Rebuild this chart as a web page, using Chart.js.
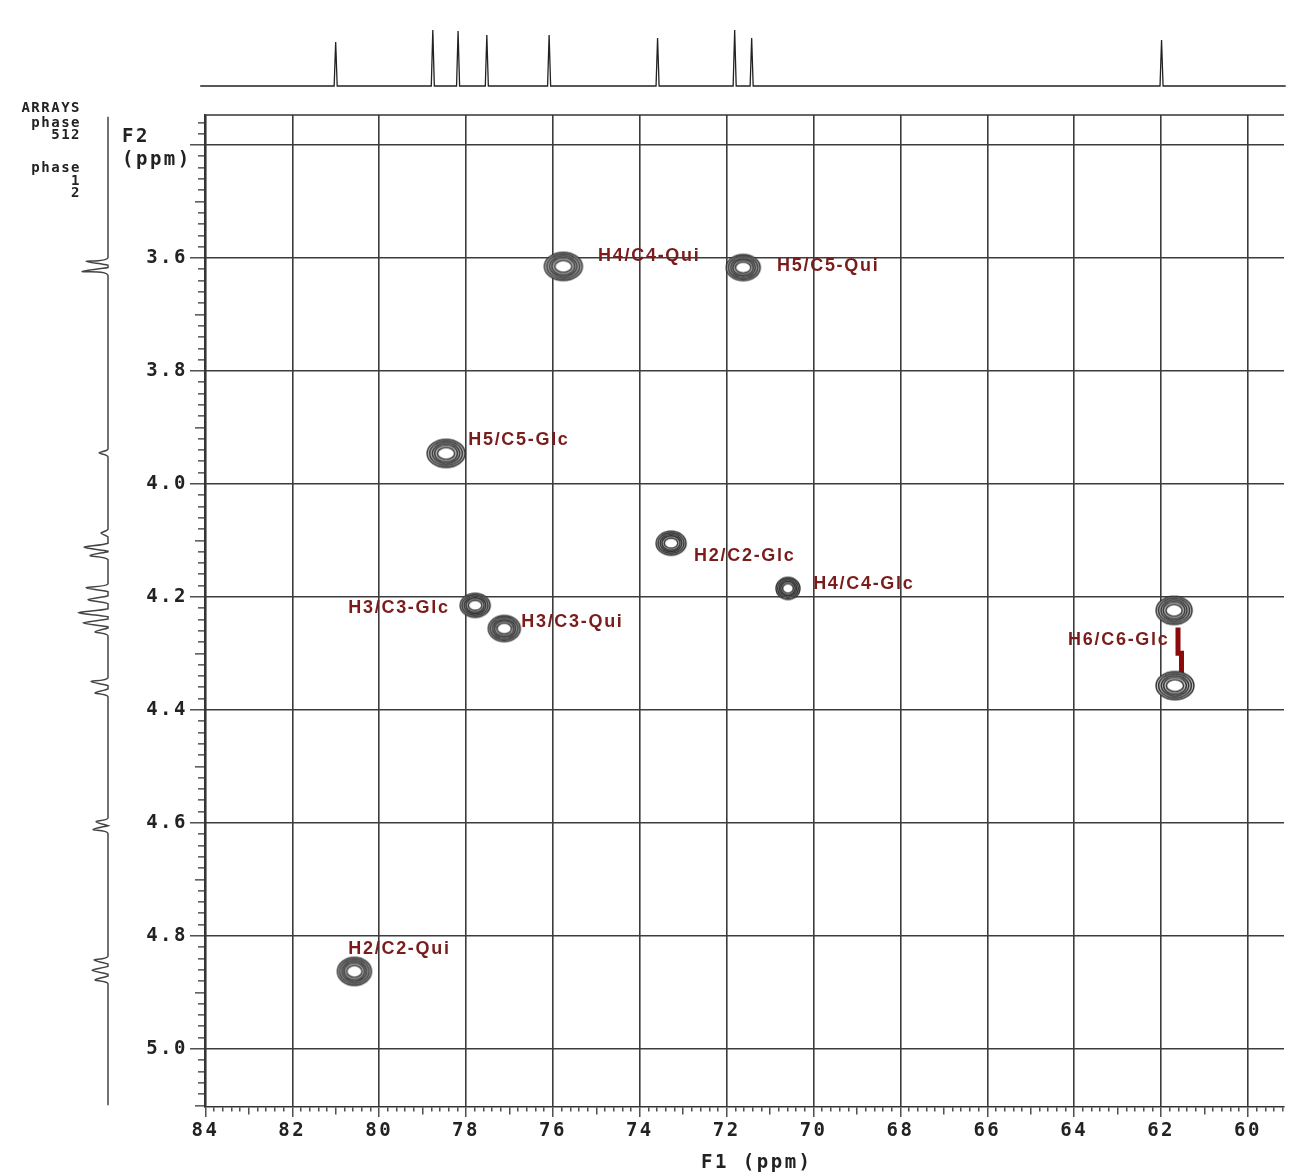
<!DOCTYPE html>
<html>
<head>
<meta charset="utf-8">
<script src="https://cdn.jsdelivr.net/npm/chart.js@4.4.0/dist/chart.umd.min.js"></script>
<style>
  body { margin: 0; background: #fff; }
  #wrap { position: relative; width: 1295px; height: 1176px; }
  canvas { position: absolute; left: 0; top: 0; }
</style>
</head>
<body>
<div id="wrap">
  <canvas id="main" width="1295" height="1176"></canvas>
  <canvas id="carbon" width="1295" height="110"></canvas>
  <canvas id="proton" width="200" height="1176"></canvas>
</div>
<script>
// HSQC cross peaks (F1 = 13C ppm, F2 = 1H ppm)
const peakC = [75.76, 71.62, 78.46, 73.28, 70.59, 77.79, 77.12, 61.70, 61.68, 80.57];
const peakH = [3.615, 3.617, 3.946, 4.105, 4.185, 4.215, 4.256, 4.224, 4.357, 4.863];

// assignment labels, anchored in ppm
const labelText = ['H4/C4-Qui', 'H5/C5-Qui', 'H5/C5-Glc', 'H2/C2-Glc', 'H4/C4-Glc',
                   'H3/C3-Glc', 'H3/C3-Qui', 'H6/C6-Glc', 'H2/C2-Qui'];
const labelC = [74.96, 70.84, 77.95, 72.75, 70.01, 80.71, 76.73, 64.14, 80.71];
const labelH = [3.597, 3.615, 3.923, 4.128, 4.178, 4.220, 4.245, 4.277, 4.824];

// red bar joining the two H6 peaks
const linkC = [61.61, 61.61, 61.53, 61.53];
const linkH = [4.254, 4.300, 4.300, 4.360];

// 1D 13C trace on top
const carbonShift = [81.01, 78.78, 78.20, 77.54, 76.11, 73.62, 71.85, 71.46, 62.05];
const carbonHeight = [44, 56, 55, 51, 51, 48, 56, 48, 46];

// 1D 1H trace on the left
const protonShift = [3.606, 3.624, 3.945, 4.087, 4.112, 4.127, 4.184, 4.205, 4.228, 4.246,
                     4.262, 4.350, 4.370, 4.598, 4.612, 4.843, 4.861, 4.878];
const protonHeight = [22, 26, 9, 7, 24, 18, 22, 20, 30, 25, 13, 17, 13, 12, 15, 14, 16, 13];

// axis ranges
const f1Min = 59.17, f1Max = 84.01;
const f2Min = 3.347, f2Max = 5.103;

// contour sizes (px) per peak
const contourSize = [[38, 28], [34, 26], [38, 28], [30, 24], [24, 22],
                     [30, 24], [32, 26], [36, 28], [38, 28], [34, 28]];

const monoFont = '"DejaVu Sans Mono", monospace';
const near = (v, step) => Math.abs(v / step - Math.round(v / step)) < 1e-6;

function contourImage(w, h) {
  const c = document.createElement('canvas');
  c.width = w + 4; c.height = h + 4;
  const g = c.getContext('2d');
  const cx = c.width / 2, cy = c.height / 2;
  g.fillStyle = '#b8b8b8';
  g.beginPath(); g.ellipse(cx, cy, w / 2, h / 2, 0, 0, Math.PI * 2); g.fill();
  g.strokeStyle = '#333'; g.lineWidth = 1.4;
  [1, 0.86, 0.72, 0.6].forEach(f => {
    g.beginPath(); g.ellipse(cx, cy, w / 2 * f, h / 2 * f, 0, 0, Math.PI * 2); g.stroke();
  });
  g.fillStyle = '#fff';
  g.beginPath(); g.ellipse(cx, cy, w / 2 * 0.45, h / 2 * 0.42, 0, 0, Math.PI * 2); g.fill(); g.stroke();
  return c;
}
const contours = contourSize.map(s => contourImage(s[0], s[1]));

function stickTrace(shifts, heights, halfWidth, lo, hi) {
  const pts = [{ s: lo, v: 0 }, { s: hi, v: 0 }];
  shifts.forEach((s, i) => {
    pts.push({ s: s - halfWidth, v: 0 }, { s: s, v: heights[i] }, { s: s + halfWidth, v: 0 });
  });
  return pts.sort((a, b) => a.s - b.s);
}

const textPlugin = {
  id: 'texts',
  beforeDraw(chart) {
    chart.ctx.letterSpacing = '2.5px';
  },
  afterDatasetsDraw(chart) {
    const { ctx, chartArea, scales } = chart;
    ctx.save();
    // top frame line
    ctx.strokeStyle = '#333'; ctx.lineWidth = 1.6;
    ctx.beginPath(); ctx.moveTo(chartArea.left, chartArea.top); ctx.lineTo(chartArea.right, chartArea.top); ctx.stroke();

    ctx.letterSpacing = '1.7px';
    ctx.font = 'bold 18px "Liberation Sans", Arial, sans-serif';
    ctx.fillStyle = '#7a1c1c';
    ctx.textBaseline = 'middle';
    ctx.textAlign = 'left';
    labelText.forEach((t, i) => {
      ctx.fillText(t, scales.x.getPixelForValue(labelC[i]), scales.y.getPixelForValue(labelH[i]));
    });

    ctx.letterSpacing = '2.5px';
    ctx.fillStyle = '#222';
    ctx.font = 'bold 19px ' + monoFont;
    ctx.fillText('F2', chartArea.left - 83, 137);
    ctx.fillText('(ppm)', chartArea.left - 83, 160);
    ctx.fillText('F1 (ppm)', 701, 1163);

    ctx.letterSpacing = '1.5px';
    ctx.font = 'bold 14px ' + monoFont;
    ctx.textAlign = 'right';
    [['ARRAYS', 108], ['phase', 123], ['512', 135], ['phase', 168], ['1', 181], ['2', 193]]
      .forEach(r => ctx.fillText(r[0], 81, r[1]));
    ctx.restore();
  }
};

new Chart(document.getElementById('main'), {
  type: 'scatter',
  data: {
    datasets: [
      {
        data: peakC.map((c, i) => ({ x: c, y: peakH[i] })),
        pointStyle: ctx => contours[ctx.dataIndex],
        pointRadius: 10
      },
      {
        data: linkC.map((c, i) => ({ x: c, y: linkH[i] })),
        showLine: true,
        borderColor: '#8b0a0a',
        borderWidth: 5,
        pointRadius: 0
      }
    ]
  },
  options: {
    responsive: false,
    animation: false,
    events: [],
    layout: { padding: { top: 115, right: 8, left: 0, bottom: 0 } },
    plugins: { legend: { display: false }, tooltip: { enabled: false } },
    scales: {
      x: {
        type: 'linear', reverse: true, min: f1Min, max: f1Max,
        afterFit: s => { s.height = 69; },
        border: { display: true, color: '#333', width: 1.6 },
        grid: {
          color: c => near(c.tick.value, 2) ? '#3c3c3c' : 'rgba(0,0,0,0)',
          lineWidth: 1.6,
          tickLength: 10,
          tickColor: '#333',
          tickWidth: 1.3,
          tickBorderDash: c => near(c.tick.value, 2) ? [] : (near(c.tick.value, 1) ? [7, 100] : [4, 100])
        },
        ticks: {
          stepSize: 0.2, autoSkip: false, includeBounds: false, maxRotation: 0, padding: 3,
          color: '#222', font: { family: monoFont, size: 19, weight: 'bold' },
          callback: v => near(v, 2) ? String(Math.round(v)) : ''
        }
      },
      y: {
        type: 'linear', reverse: true, min: f2Min, max: f2Max,
        afterFit: s => { s.width = 205; },
        border: { display: true, color: '#333', width: 1.6 },
        grid: {
          color: c => near(c.tick.value, 0.2) ? '#3c3c3c' : 'rgba(0,0,0,0)',
          lineWidth: 1.6,
          tickLength: 15,
          tickColor: '#333',
          tickWidth: 1.3,
          tickBorderDash: c => near(c.tick.value, 0.2) ? [] : (near(c.tick.value, 0.1) ? [0, 5, 10, 100] : [0, 8, 7, 100])
        },
        ticks: {
          stepSize: 0.02, autoSkip: false, includeBounds: false, padding: 2,
          color: '#222', font: { family: monoFont, size: 19, weight: 'bold' },
          callback: v => (near(v, 0.2) && v > 3.5) ? v.toFixed(1) : ''
        }
      }
    }
  },
  plugins: [textPlugin]
});

const carbonTrace = stickTrace(carbonShift, carbonHeight, 0.035, 59.2, 84.12);
new Chart(document.getElementById('carbon'), {
  type: 'scatter',
  data: {
    datasets: [{
      data: carbonTrace.map(p => ({ x: p.s, y: p.v })),
      showLine: true, borderColor: '#222', borderWidth: 1.3, pointRadius: 0, clip: false
    }]
  },
  options: {
    responsive: false, animation: false, events: [],
    layout: { padding: { left: 205, right: 8, top: 10, bottom: 10 } },
    plugins: { legend: { display: false }, tooltip: { enabled: false } },
    scales: {
      x: { type: 'linear', reverse: true, min: f1Min, max: f1Max, display: false },
      y: { type: 'linear', min: -14, max: 76, display: false }
    }
  }
});

const protonTrace = stickTrace(protonShift, protonHeight, 0.007, 3.35, 5.10);
new Chart(document.getElementById('proton'), {
  type: 'scatter',
  data: {
    datasets: [{
      data: protonTrace.map(p => ({ x: p.v, y: p.s })),
      showLine: true, borderColor: '#444', borderWidth: 1.5, pointRadius: 0, tension: 0.25, clip: false
    }]
  },
  options: {
    responsive: false, animation: false, events: [],
    layout: { padding: { left: 38, right: 92, top: 115, bottom: 69 } },
    plugins: { legend: { display: false }, tooltip: { enabled: false } },
    scales: {
      x: { type: 'linear', reverse: true, min: 0, max: 70, display: false },
      y: { type: 'linear', reverse: true, min: f2Min, max: f2Max, display: false }
    }
  }
});
</script>
</body>
</html>
